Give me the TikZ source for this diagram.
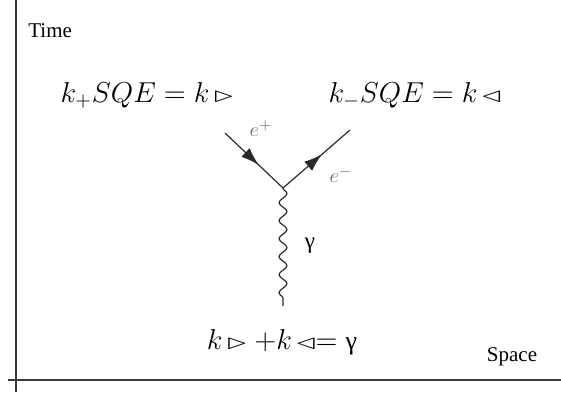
\documentclass[tikz,border=0pt]{standalone}
\usepackage{fontspec}
\usepackage{amsmath}
\usepackage{amssymb}
\usepackage{graphicx}
\setmainfont{Liberation Serif}
\usetikzlibrary{arrows.meta, decorations.pathmorphing, decorations.markings}
\definecolor{axisline}{HTML}{3a3a3a}
\definecolor{fermion}{HTML}{2a2a2a}
\definecolor{soft}{HTML}{707070}
\newcommand{\rtri}{\mathord{\scalebox{1.35}[0.8]{$\triangleright$}}}
\newcommand{\ltri}{\mathord{\scalebox{1.35}[0.8]{$\triangleleft$}}}
\tikzstyle{axis}     = [axisline, line width=1pt]
\tikzstyle{label}    = [font=\fontsize{10.5}{12}\selectfont, inner sep=0pt]
\tikzstyle{formula}  = [font=\fontsize{14}{16}\selectfont, inner sep=0pt]
\tikzstyle{particle} = [soft, font=\fontsize{10}{11}\selectfont, inner sep=0pt]
\tikzstyle{fline}    = [fermion, line width=0.6pt, postaction={decorate},
                        decoration={markings,
                          mark=at position 0.58 with {\arrow{Latex[length=9pt,width=6pt]}}}]
\tikzstyle{photon}   = [fermion, line width=0.6pt,
                        decorate, decoration={snake, amplitude=2pt, segment length=9pt}]

\begin{document}
\begin{tikzpicture}[x=0.5pt, y=-0.5pt]
  \useasboundingbox (0,0) rectangle (561,392);

  %% axes
  \coordinate (ttop) at (16,0);
  \coordinate (tbot) at (16,392);
  \coordinate (sleft) at (8,380);
  \coordinate (sright) at (561,380);
  \draw[axis] (ttop) -- (tbot);
  \draw[axis] (sleft) -- (sright);
  \node[label, anchor=west] (time) at (28,31) {Time};
  \node[label] (space) at (512,357) {Space};

  %% vertex and legs
  \coordinate (vtx) at (283,188);
  \coordinate (pin) at (225,133);
  \coordinate (eout) at (350,130);
  \coordinate (gend) at (283,306);
  \draw[fline] (pin) -- (vtx);
  \draw[fline] (vtx) -- (eout);
  \draw[photon] (vtx) -- (gend);

  %% particle labels
  \node[particle] (epos) at (261,129) {$e^{+}$};
  \node[particle] (eneg) at (341,175) {$e^{-}$};
  \node[label, font=\fontsize{11.5}{12}\selectfont] (gam) at (310,246) {γ};

  %% formulas
  \node[formula] (kplus) at (147,95) {$k_{+}SQE = k\,\rtri$};
  \node[formula] (kminus) at (415,95) {$k_{-}SQE = k\,\ltri$};
  \node[formula] (ksum) at (282,342)
    {$k\,\rtri\;\mathord{+}k\,\ltri\mathord{=}\;\text{\fontsize{13}{14}\selectfont γ}$};

\end{tikzpicture}
\end{document}
